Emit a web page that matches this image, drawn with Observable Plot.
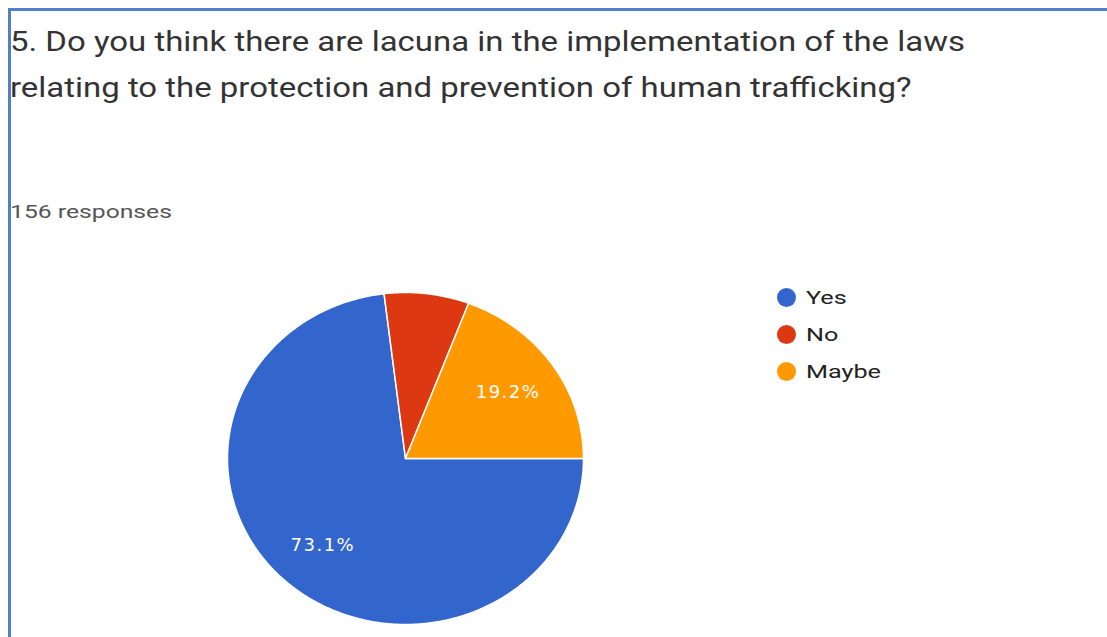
<!DOCTYPE html>
<html><head><meta charset="utf-8">
<script src="https://cdn.jsdelivr.net/npm/d3@7"></script>
<script src="https://cdn.jsdelivr.net/npm/@observablehq/plot@0.6"></script>
<style>
body{margin:0;background:#fff;}
#frame{position:relative;width:1107px;height:637px;overflow:hidden;font-family:Roboto,"Noto Sans",sans-serif;background:#fff;}
#border{position:absolute;left:8px;top:8px;width:1200px;height:700px;border-top:3px solid #4f81c3;border-left:3px solid #4f81c3;}
#title{position:absolute;left:10px;top:19px;font-size:27px;line-height:46px;color:#333;white-space:nowrap;transform:scaleX(1.22);transform-origin:left top;}
#resp{position:absolute;left:10px;top:200px;font-size:19px;line-height:24px;color:#555;display:inline-block;transform:scaleX(1.3);transform-origin:left center;white-space:nowrap;}
#legend{position:absolute;left:777px;top:279px;}
.row{display:flex;align-items:center;height:37px;}
.sw{width:19px;height:19px;border-radius:50%;margin-right:10px;}
.lab{font-size:18px;color:#222;display:inline-block;transform:scaleX(1.4);transform-origin:left center;}
#chart{position:absolute;left:0;top:0;}
</style></head>
<body>
<div id="frame">
  <div id="border"></div>
  <div id="chart"></div>
  <div id="title"></div>
  <div id="resp"></div>
  <div id="legend"></div>
</div>
<script>
const titleLines = ["5. Do you think there are lacuna in the implementation of the laws",
                    "relating to the protection and prevention of human trafficking?"];
const responsesText = "156 responses";
const categories = ["Yes", "No", "Maybe"];
const counts = [114, 12, 30];
const colors = ["#3366cc", "#dc3912", "#ff9900"];

document.getElementById("title").innerHTML = titleLines.join("<br>");
document.getElementById("resp").textContent = responsesText;
const leg = document.getElementById("legend");
categories.forEach((c, i) => {
  const row = document.createElement("div"); row.className = "row";
  const sw = document.createElement("div"); sw.className = "sw"; sw.style.background = colors[i];
  const lb = document.createElement("span"); lb.className = "lab"; lb.textContent = c;
  row.appendChild(sw); row.appendChild(lb); leg.appendChild(row);
});

const total = d3.sum(counts);
const startAngle = Math.PI / 2; // slices begin at 3 o'clock, clockwise
const pie = d3.pie().sort(null).startAngle(startAngle).endAngle(startAngle + 2 * Math.PI)(counts);
const polys = [];
const labels = [];
pie.forEach((p, i) => {
  const n = Math.max(2, Math.ceil((p.endAngle - p.startAngle) / 0.01));
  polys.push({cat: categories[i], x: 0, y: 0});
  for (let k = 0; k <= n; k++) {
    const a = p.startAngle + (p.endAngle - p.startAngle) * k / n;
    polys.push({cat: categories[i], x: Math.sin(a), y: Math.cos(a)});
  }
  polys.push({cat: categories[i], x: 0, y: 0});
  const frac = counts[i] / total;
  if (frac > 0.1) {
    const m = (p.startAngle + p.endAngle) / 2;
    labels.push({x: 0.7 * Math.sin(m), y: 0.7 * Math.cos(m), t: (frac * 100).toFixed(1) + "%"});
  }
});

const cx = 405, cy = 458, rx = 178, ry = 166;
const svg = Plot.plot({
  width: 1107, height: 637,
  margin: 0,
  x: {domain: [-1, 1], range: [cx - rx, cx + rx], axis: null},
  y: {domain: [-1, 1], range: [cy + ry, cy - ry], axis: null},
  color: {domain: categories, range: colors},
  style: {background: "transparent"},
  marks: [
    Plot.line(polys, {x: "x", y: "y", z: "cat", fill: "cat", stroke: "white", strokeWidth: 1.5, curve: "linear"}),
    Plot.text(labels, {x: "x", y: "y", text: "t", fill: "white", fontSize: 18, fontFamily: "DejaVu Sans"})
  ]
});
svg.querySelectorAll("text").forEach(t => t.style.letterSpacing = "1.5px");
document.getElementById("chart").appendChild(svg);
</script>
</body></html>
